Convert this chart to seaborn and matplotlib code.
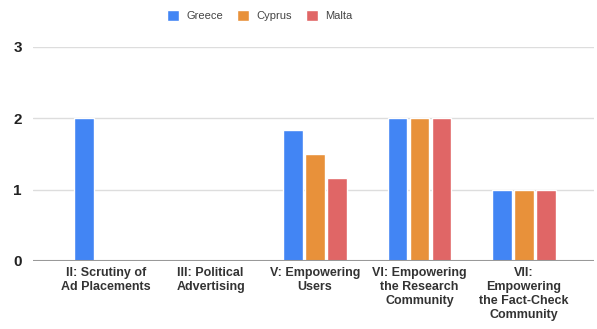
import numpy as np
import pandas as pd
import matplotlib
matplotlib.use("Agg")
import matplotlib.pyplot as plt
import seaborn as sns

categories = [
    "II: Scrutiny of\nAd Placements",
    "III: Political\nAdvertising",
    "V: Empowering\nUsers",
    "VI: Empowering\nthe Research\nCommunity",
    "VII:\nEmpowering\nthe Fact-Check\nCommunity",
]
countries = ["Greece", "Cyprus", "Malta"]
greece = [2, np.nan, 1.83, 2, 1]
cyprus = [np.nan, np.nan, 1.5, 2, 1]
malta = [np.nan, np.nan, 1.17, 2, 1]
colors = ["#4285F4", "#E8913A", "#E06666"]

df = pd.DataFrame({
    "category": categories * 3,
    "country": [c for c in countries for _ in categories],
    "value": greece + cyprus + malta,
})

sns.set_theme(style="white")
plt.rcParams["font.family"] = ["Liberation Sans", "DejaVu Sans"]

fig = plt.figure(figsize=(5.97, 3.29), dpi=100)
ax = fig.add_axes([33 / 597, 1 - 261 / 329, (594 - 33) / 597, (261 - 47) / 329])

sns.barplot(data=df, x="category", y="value", hue="country", palette=colors,
            width=0.63, gap=0.1, ax=ax, zorder=3, saturation=1)

ax.set_xlim(-0.70, 4.67)
ax.set_ylim(0, 3)
ax.set_yticks([0, 1, 2, 3])
ax.yaxis.grid(True, color="#dddddd", linewidth=1, zorder=0)
ax.axhline(0, color="#999999", linewidth=1.5, zorder=4)
for s in ax.spines.values():
    s.set_visible(False)
ax.set_xlabel("")
ax.set_ylabel("")
ax.tick_params(axis="x", length=0, pad=4)
ax.tick_params(axis="y", length=0, pad=8)
ax.set_xticks(range(len(categories)))
ax.set_xticklabels(categories, fontsize=9, fontweight="bold", color="#333333",
                   linespacing=1.25, va="top")
for lbl in ax.get_yticklabels():
    lbl.set_fontsize(11)
    lbl.set_fontweight("bold")
    lbl.set_color("#222222")

handles, labels = ax.get_legend_handles_labels()
ax.legend(handles, labels, loc="center", bbox_to_anchor=(0.435, 0.952),
          bbox_transform=fig.transFigure, ncol=3, frameon=False,
          handlelength=1.1, handleheight=1.1, handletextpad=0.6,
          columnspacing=1.3, prop={"size": 8}, labelcolor="#444444")

fig.savefig("out.png", dpi=100)
